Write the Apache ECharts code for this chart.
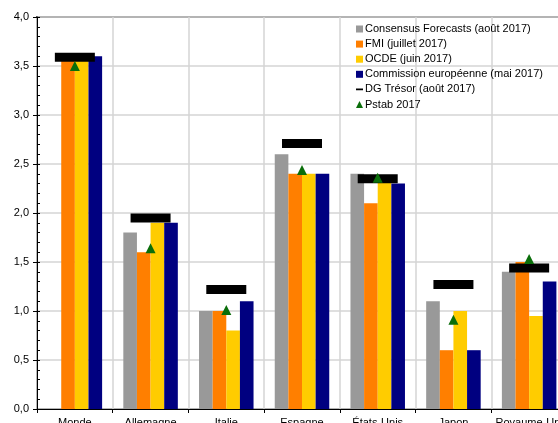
<!DOCTYPE html>
<html>
<head>
<meta charset="utf-8">
<script src="https://cdn.jsdelivr.net/npm/echarts@6/dist/echarts.min.js"></script>
<style>
  html, body { margin: 0; padding: 0; background: #fff; overflow: hidden; }
  #wrap { position: relative; width: 558px; height: 423px; overflow: hidden; }
  #chart { position: absolute; left: 0; top: 0; width: 570px; height: 423px; }
</style>
</head>
<body>
<div id="wrap"><div id="chart"></div></div>
<script>
// Croissance du PIB 2017 selon les prévisionnistes (%)
const categories = ['Monde', 'Allemagne', 'Italie', 'Espagne', 'États-Unis', 'Japon', 'Royaume-Uni'];
const consensus  = [null, 1.8, 1.0, 2.6, 2.4, 1.1, 1.4];
const fmi        = [3.6, 1.6, 1.0, 2.4, 2.1, 0.6, 1.5];
const ocde       = [3.6, 1.9, 0.8, 2.4, 2.35, 1.0, 0.95];
const commission = [3.6, 1.9, 1.1, 2.4, 2.3, 0.6, 1.3];
const dgTresor   = [3.59, 1.95, 1.22, 2.71, 2.35, 1.27, 1.44];
const pstab      = [3.5, 1.64, 1.01, 2.44, 2.36, 0.91, 1.53];

const seriesNames = [
  'Consensus Forecasts (août 2017)',
  'FMI (juillet 2017)',
  'OCDE (juin 2017)',
  'Commission européenne (mai 2017)',
  'DG Trésor (août 2017)',
  'Pstab 2017'
];

const font = 'Liberation Sans, Arial, sans-serif';
const fmt = v => v.toFixed(1).replace('.', ',');

// Dash icon for the legend: thin bar inside a square box (corner specks keep the box size)
const dashIcon = 'path://M0,0L0.01,0L0.01,0.01L0,0.01Z M0,2.6L7,2.6L7,4.4L0,4.4Z M6.99,6.99L7,6.99L7,7L6.99,7Z';

const chart = echarts.init(document.getElementById('chart'), null, { renderer: 'canvas' });

function barSeries(name, data, color) {
  return {
    name, type: 'bar', data,
    barGap: 0, barCategoryGap: '28%',
    itemStyle: { color },
    emphasis: { disabled: true },
    animation: false
  };
}

chart.setOption({
  animation: false,
  grid: {
    left: 37, top: 17, width: 530, height: 392,
    outerBoundsMode: 'none',
    containLabel: false,
    show: true, borderColor: '#555', borderWidth: 2, backgroundColor: 'transparent'
  },
  legend: {
    orient: 'vertical',
    left: 356, top: 23.5,
    itemWidth: 7, itemHeight: 7, itemGap: 4.1,
    padding: 0,
    textStyle: { fontFamily: font, fontSize: 11, color: '#000', padding: [0, 0, 0, -3] },
    data: [
      { name: seriesNames[0], icon: 'rect' },
      { name: seriesNames[1], icon: 'rect' },
      { name: seriesNames[2], icon: 'rect' },
      { name: seriesNames[3], icon: 'rect' },
      { name: seriesNames[4], icon: dashIcon },
      { name: seriesNames[5], icon: 'triangle' }
    ]
  },
  xAxis: {
    type: 'category',
    data: categories,
    axisLine: { lineStyle: { color: '#000', width: 1 } },
    axisTick: { show: true, length: 4, lineStyle: { color: '#000' } },
    axisLabel: { fontFamily: font, fontSize: 11, color: '#000', margin: 8, interval: 0 },
    splitLine: { show: true, lineStyle: { color: '#d4d4d4', width: 1.5 } }
  },
  yAxis: [
    {
      type: 'value', min: 0, max: 4, interval: 0.5,
      axisLine: { show: true, lineStyle: { color: '#000', width: 1 } },
      axisTick: { show: true, length: 4, lineStyle: { color: '#000' } },
      axisLabel: { fontFamily: font, fontSize: 11, color: '#000', margin: 8, formatter: fmt },
      splitLine: { show: true, lineStyle: { color: '#d4d4d4', width: 1.5 } }
    },
    {
      // inner minor ticks every 0.1
      type: 'value', min: 0, max: 4, interval: 0.1, position: 'left', offset: 0,
      axisLine: { show: false },
      axisTick: { show: true, inside: true, length: 3, lineStyle: { color: '#000' } },
      axisLabel: { show: false },
      splitLine: { show: false }
    }
  ],
  series: [
    barSeries(seriesNames[0], consensus, '#999999'),
    barSeries(seriesNames[1], fmi, '#ff7f00'),
    barSeries(seriesNames[2], ocde, '#ffcc00'),
    barSeries(seriesNames[3], commission, '#000080'),
    {
      name: seriesNames[4], type: 'scatter', data: dgTresor,
      symbol: 'rect', symbolSize: [40, 9],
      itemStyle: { color: '#000', opacity: 1 },
      emphasis: { disabled: true }, z: 3
    },
    {
      name: seriesNames[5], type: 'scatter', data: pstab,
      symbol: 'triangle', symbolSize: [10, 10],
      itemStyle: { color: '#0a6e0a', opacity: 1 },
      emphasis: { disabled: true }, z: 4
    }
  ]
});
</script>
</body>
</html>
